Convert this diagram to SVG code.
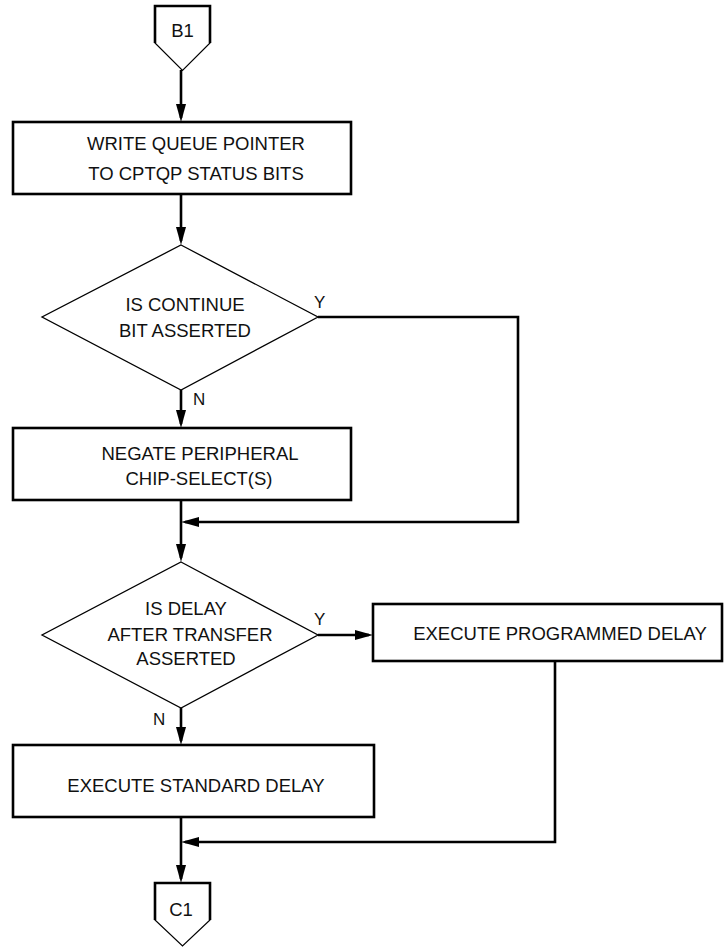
<svg xmlns="http://www.w3.org/2000/svg" width="725" height="947" viewBox="0 0 725 947">
<style>
text{font-family:"Liberation Sans",Arial,Helvetica,sans-serif;fill:#111;}
.t{font-size:18.5px;text-anchor:middle;}
.l{font-size:17px;}
.box{fill:#fff;stroke:#000;stroke-width:2.6;}
.dia{fill:#fff;stroke:#000;stroke-width:1.3;}
.pthin{fill:#fff;stroke:#000;stroke-width:1.2;}
.pthick{fill:none;stroke:#000;stroke-width:2.6;}
.c{fill:none;stroke:#000;stroke-width:2.6;}
</style>
<defs>
<marker id="ah" markerUnits="userSpaceOnUse" markerWidth="18" markerHeight="10" refX="14" refY="5" orient="auto" viewBox="0 0 18 10">
<path d="M0,0 L18,5 L0,10 z" fill="#000"/>
</marker>
</defs>
<g id="connectors">
<path class="c" d="M181,70 V118" marker-end="url(#ah)"/>
<path class="c" d="M181,194 V241" marker-end="url(#ah)"/>
<path class="c" d="M181,390 V424" marker-end="url(#ah)"/>
<path class="c" d="M318,317 H518 V522 H185" marker-end="url(#ah)"/>
<path class="c" d="M181,500 V558" marker-end="url(#ah)"/>
<path class="c" d="M318,635 H369" marker-end="url(#ah)"/>
<path class="c" d="M181,708 V741" marker-end="url(#ah)"/>
<path class="c" d="M555,661 V842 H185" marker-end="url(#ah)"/>
<path class="c" d="M181,817 V879" marker-end="url(#ah)"/>
<text class="l" x="314" y="308">Y</text>
<text class="l" x="193" y="405">N</text>
<text class="l" x="314" y="625">Y</text>
<text class="l" x="153" y="725">N</text>
</g>
<g id="B1">
<polygon class="pthin" points="155,6 210,6 210,43 182.5,70.5 155,43"/>
<polyline class="pthick" points="155,43 155,6 210,6 210,43"/>
<text class="t" x="182.5" y="37">B1</text>
</g>
<g id="write-queue-pointer">
<rect class="box" x="13" y="122" width="338" height="72"/>
<text class="t" x="196" y="150">WRITE QUEUE POINTER</text>
<text class="t" x="196" y="180">TO CPTQP STATUS BITS</text>
</g>
<g id="is-continue">
<polygon class="dia" points="181,245 318,317 181,390 42,317"/>
<text class="t" x="185" y="311">IS CONTINUE</text>
<text class="t" x="185" y="337">BIT ASSERTED</text>
</g>
<g id="negate-peripheral">
<rect class="box" x="13" y="428" width="338" height="72"/>
<text class="t" x="200" y="460">NEGATE PERIPHERAL</text>
<text class="t" x="199" y="485">CHIP-SELECT(S)</text>
</g>
<g id="is-delay">
<polygon class="dia" points="181,562 318,635 181,708 42,635"/>
<text class="t" x="186" y="615">IS DELAY</text>
<text class="t" x="190" y="641">AFTER TRANSFER</text>
<text class="t" x="186" y="665">ASSERTED</text>
</g>
<g id="execute-programmed-delay">
<rect class="box" x="373" y="604" width="349" height="57"/>
<text class="t" x="560" y="640">EXECUTE PROGRAMMED DELAY</text>
</g>
<g id="execute-standard-delay">
<rect class="box" x="13" y="745" width="361" height="72"/>
<text class="t" x="196" y="792">EXECUTE STANDARD DELAY</text>
</g>
<g id="C1">
<polygon class="pthin" points="155,883 210,883 210,920 182.5,946 155,920"/>
<polyline class="pthick" points="155,920 155,883 210,883 210,920"/>
<text class="t" x="181" y="916">C1</text>
</g>
</svg>
